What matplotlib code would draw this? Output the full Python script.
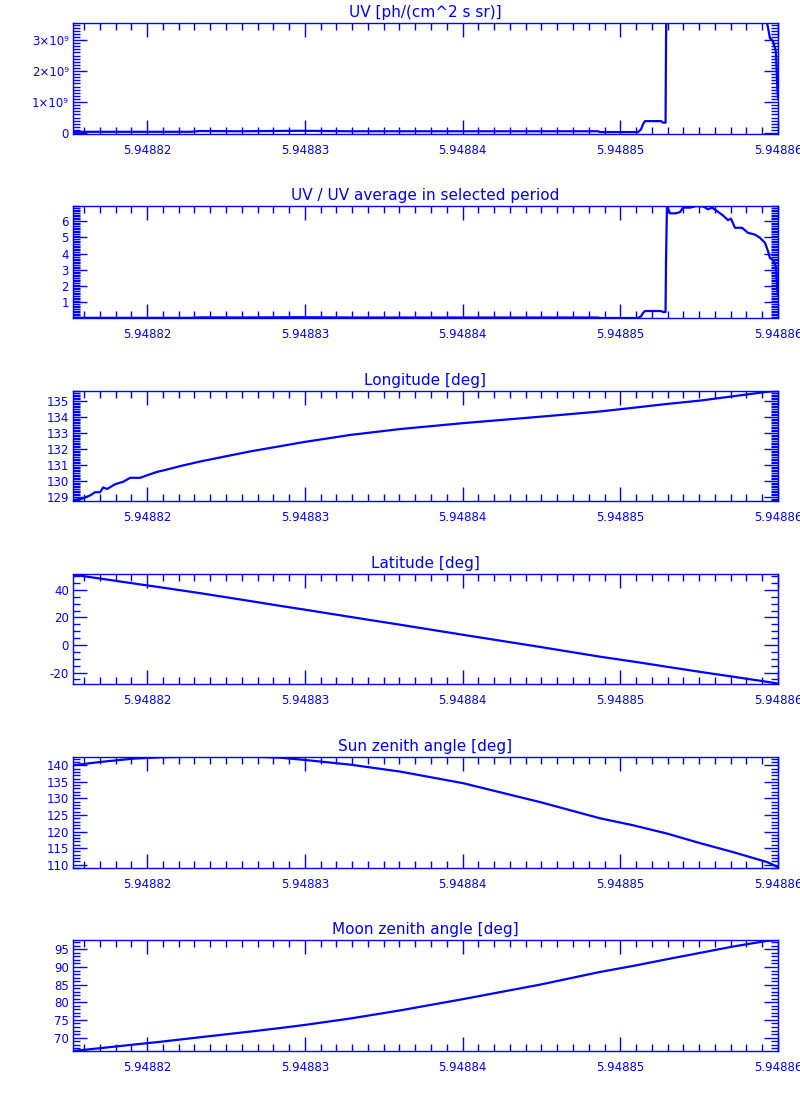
import numpy as np
import matplotlib
matplotlib.use("Agg")
import matplotlib.pyplot as plt
from matplotlib.ticker import MultipleLocator, FormatStrFormatter, FuncFormatter

BLUE = "#0000FF"

# UV time series (time in days)
t_uv = [5.94881531, 5.94882273, 5.94882336, 5.94882590, 5.94882970, 5.94883287,
        5.94884859, 5.94884872, 5.94885113, 5.94885132, 5.94885144, 5.94885157,
        5.94885258, 5.94885271, 5.94885287, 5.94885290, 5.94885296, 5.94885315,
        5.94885353, 5.94885379, 5.94885398, 5.94885442, 5.94885487, 5.94885525,
        5.94885556, 5.94885582, 5.94885613, 5.94885651, 5.94885683, 5.94885702,
        5.94885727, 5.94885772, 5.94885810, 5.94885854, 5.94885886, 5.94885918,
        5.94885937, 5.94885949, 5.94885968, 5.94885987, 5.94885996, 5.94886000]
uv_ratio = [0.05, 0.05, 0.08, 0.07, 0.09, 0.07,
            0.07, 0.04, 0.04, 0.15, 0.35, 0.47,
            0.47, 0.41, 0.41, 3.6, 6.93, 6.48,
            6.48, 6.56, 6.83, 6.83, 6.93, 6.90,
            6.73, 6.83, 6.62, 6.35, 6.06, 6.15,
            5.59, 5.59, 5.28, 5.17, 4.97, 4.66,
            4.14, 3.73, 3.62, 3.20, 1.76, 1.40]
UV_MEAN = 0.82e9  # average UV in selected period
uv = [r * UV_MEAN for r in uv_ratio]

# longitude
t_lon = [5.94881531, 5.94881588, 5.94881639, 5.94881670, 5.94881702, 5.94881721,
         5.94881746, 5.94881797, 5.94881848, 5.94881892, 5.94881956, 5.94882000,
         5.94882063, 5.94882127, 5.94882209, 5.94882336, 5.94882653, 5.94883002,
         5.94883287, 5.94883604, 5.94884003, 5.94884491, 5.94884872, 5.94885081,
         5.94885296, 5.94885506, 5.94885715, 5.94885930, 5.94886000]
lon = [128.8, 128.9, 129.1, 129.3, 129.3, 129.6,
       129.5, 129.8, 129.95, 130.2, 130.2, 130.36,
       130.57, 130.72, 130.93, 131.22, 131.85, 132.45,
       132.88, 133.25, 133.62, 134.02, 134.35, 134.58,
       134.82, 135.03, 135.3, 135.58, 135.63]

# geometry (shared time grid)
t_geo = [5.94881531, 5.94881702, 5.94881911, 5.94882082, 5.94882336, 5.94882653,
         5.94882843, 5.94883002, 5.94883287, 5.94883604, 5.94884003, 5.94884491,
         5.94884872, 5.94885081, 5.94885296, 5.94885506, 5.94885715, 5.94885930,
         5.94886000]
lat = [51.0, 48.2, 44.7, 41.9, 37.6, 31.9,
       28.4, 25.6, 20.4, 14.7, 7.4, -1.4,
       -8.5, -12.0, -15.8, -19.5, -23.0, -26.7,
       -28.0]
sza = [140.0, 141.0, 142.0, 142.4, 142.6, 142.6,
       142.3, 141.6, 140.2, 138.1, 134.6, 128.9,
       124.0, 121.9, 119.4, 116.5, 113.8, 110.8,
       109.3]
mza = [66.2, 67.0, 68.0, 68.8, 70.1, 71.7,
       72.7, 73.6, 75.4, 77.7, 80.9, 85.0,
       88.6, 90.3, 92.2, 94.0, 95.8, 97.4,
       97.65]

plt.rcParams.update({"font.family": "DejaVu Sans", "text.color": BLUE,
                     "axes.edgecolor": BLUE, "xtick.color": BLUE, "ytick.color": BLUE})

fig = plt.figure(figsize=(8, 11), dpi=100)

# (top_px, bottom_px) of each panel
rows = [(23, 134), (206, 318), (391, 501), (574, 684), (757, 868), (940, 1051)]
L, R = 73, 778


def sci9(v, pos):
    if abs(v) < 1e-3:
        return "0"
    return "%d\u00d710\u2079" % round(v / 1e9)


panels = [
    (t_uv, uv, "UV [ph/(cm^2 s sr)]", (-0.03e9, 3.55e9), 1e9, 1e8, sci9),
    (t_uv, uv_ratio, "UV / UV average in selected period", (0.04, 6.93), 1, 0.1, "%d"),
    (t_lon, lon, "Longitude [deg]", (128.75, 135.63), 1, 0.1, "%d"),
    (t_geo, lat, "Latitude [deg]", (-28.3, 51.5), 20, 5, "%d"),
    (t_geo, sza, "Sun zenith angle [deg]", (109.0, 142.5), 5, 1, "%d"),
    (t_geo, mza, "Moon zenith angle [deg]", (66.2, 97.65), 5, 1, "%d"),
]

for (top, bot), (tx, ty, title, ylim, major, minor, fmt) in zip(rows, panels):
    ax = fig.add_axes([L / 800, 1 - bot / 1100, (R - L) / 800, (bot - top) / 1100])
    ax.plot(tx, ty, color=BLUE, linewidth=1.6)
    ax.set_xlim(5.9488153, 5.94886)
    ax.set_ylim(*ylim)
    ax.xaxis.set_major_locator(MultipleLocator(1e-5))
    ax.xaxis.set_minor_locator(MultipleLocator(1e-6))
    ax.xaxis.set_major_formatter(FormatStrFormatter("%.5f"))
    ax.yaxis.set_major_locator(MultipleLocator(major))
    ax.yaxis.set_minor_locator(MultipleLocator(minor))
    if callable(fmt):
        ax.yaxis.set_major_formatter(FuncFormatter(fmt))
    else:
        ax.yaxis.set_major_formatter(FormatStrFormatter(fmt))
    ax.tick_params(which="both", direction="in", top=True, right=True, width=1)
    ax.tick_params(which="major", length=10, labelsize=8.5)
    ax.tick_params(axis="x", which="major", pad=7)
    ax.tick_params(axis="y", which="major", pad=3)
    ax.tick_params(which="minor", length=5)
    for s in ax.spines.values():
        s.set_linewidth(1)
    ax.set_title(title, fontsize=11, color=BLUE, pad=4)

fig.savefig("out.png", dpi=100)
